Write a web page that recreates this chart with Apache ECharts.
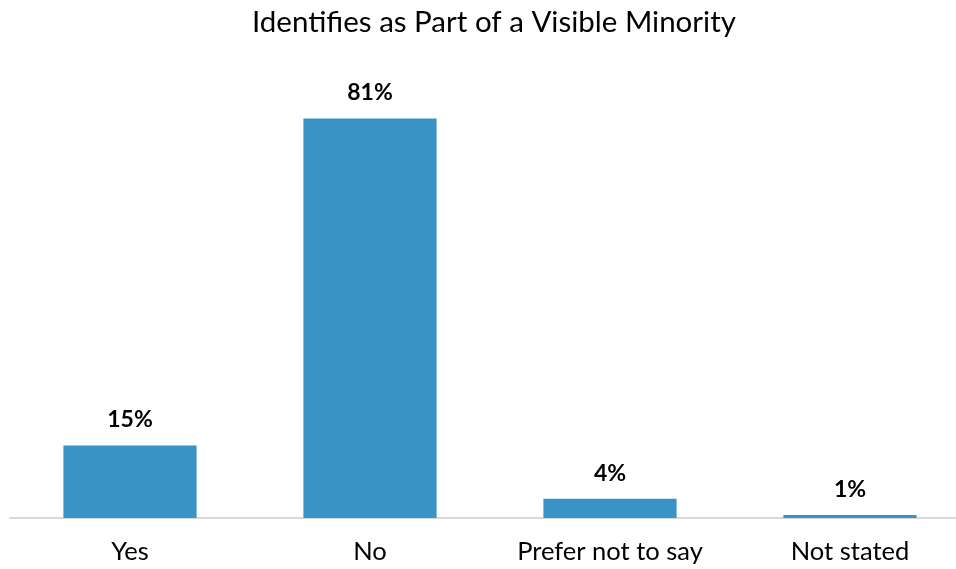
<!DOCTYPE html>
<html>
<head>
<meta charset="utf-8">
<script src="https://cdn.jsdelivr.net/npm/echarts@6/dist/echarts.min.js"></script>
<style>html,body{margin:0;padding:0;background:#fff}#c{width:956px;height:569px}</style>
</head>
<body>
<div id="c"></div>
<script>
const titleText = "Identifies as Part of a Visible Minority";
const categories = ["Yes", "No", "Prefer not to say", "Not stated"];
const values = [14.7, 81, 3.9, 0.6];

const chart = echarts.init(document.getElementById('c'), null, {renderer: 'canvas'});
chart.setOption({
  animation: false,
  backgroundColor: '#ffffff',
  title: {
    text: titleText,
    left: 252,
    top: 7,
    padding: 0,
    textStyle: {fontFamily: 'Lato', fontWeight: 'normal', fontSize: 29.5, color: '#000000'}
  },
  grid: {left: 10, width: 960, top: 74, height: 444, containLabel: false, outerBoundsMode: 'none'},
  xAxis: {
    type: 'category',
    data: categories,
    axisLine: {show: true, lineStyle: {color: '#d9d9d9', width: 2}},
    axisTick: {show: false},
    axisLabel: {fontFamily: 'Lato', fontSize: 25.5, color: '#000000', margin: 21, interval: 0}
  },
  yAxis: {
    type: 'value',
    min: 0, max: 90,
    show: false,
    splitLine: {show: false}
  },
  series: [{
    type: 'bar',
    data: values,
    barWidth: '55.5%',
    itemStyle: {color: '#3A93C6'},
    label: {
      show: true,
      position: 'top',
      distance: 14,
      fontFamily: 'Lato',
      fontWeight: 'bold',
      fontSize: 23,
      color: '#000000',
      formatter: p => Math.round(p.value) + '%'
    }
  }]
});
</script>
</body>
</html>
